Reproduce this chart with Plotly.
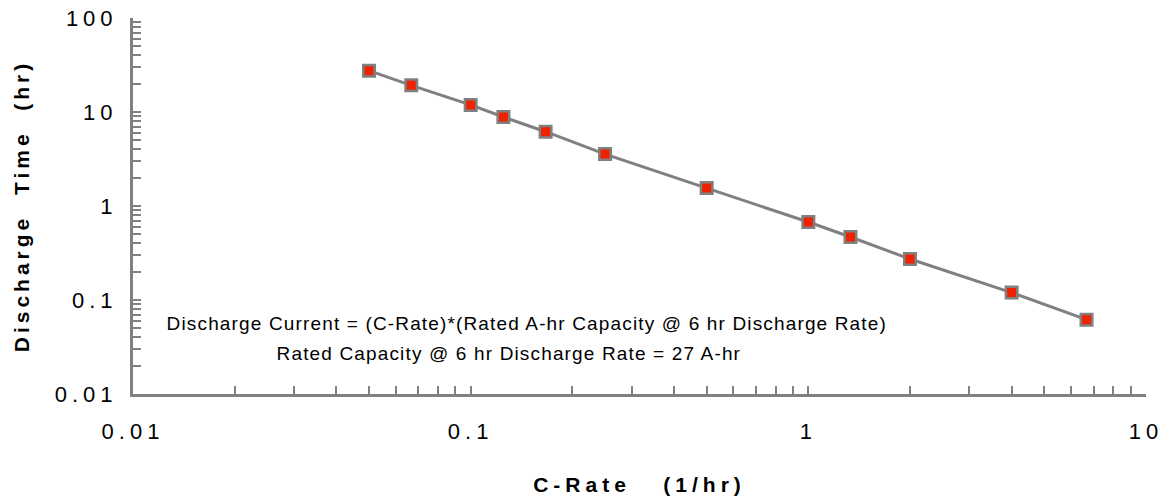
import plotly.graph_objects as go

# Data
c_rate = [0.05, 0.0667, 0.1, 0.125, 0.1667, 0.25, 0.5, 1.0, 1.333, 2.0, 4.0, 6.667]
discharge_time = [27.5, 19.2, 11.9, 8.85, 6.17, 3.57, 1.55, 0.676, 0.468, 0.273, 0.120, 0.0617]

x_tick_vals = [0.01, 0.1, 1, 10]
x_tick_text = ["0.01", "0.1", "1", "10"]
y_tick_vals = [0.01, 0.1, 1, 10, 100]
y_tick_text = ["0.01", "0.1", "1", "10", "100"]

x_title = "C-Rate\u00a0\u00a0\u00a0(1/hr)"
y_title = "Discharge\u00a0\u00a0Time\u00a0\u00a0(hr)"
note_1 = "Discharge Current = (C-Rate)*(Rated A-hr Capacity @ 6 hr Discharge Rate)"
note_2 = "Rated Capacity @ 6 hr Discharge Rate = 27 A-hr"

GRAY = "#808080"
FONT = "Arial, 'Liberation Sans', sans-serif"

fig = go.Figure()
fig.add_trace(go.Scatter(
    x=c_rate, y=discharge_time, mode="lines+markers",
    line=dict(color=GRAY, width=3),
    marker=dict(symbol="square", size=11.5, color="#ee2200",
                line=dict(color=GRAY, width=2.5)),
    showlegend=False,
))

axis_common = dict(
    type="log", showgrid=False, zeroline=False,
    showline=True, linecolor=GRAY, linewidth=3,
    ticks="inside", ticklen=8, tickwidth=2, tickcolor=GRAY,
    tickmode="array",
    minor=dict(ticks="inside", ticklen=8, tickwidth=2, tickcolor=GRAY, dtick="D1", showgrid=False),
    tickfont=dict(family=FONT, size=22, color="#000"),
    mirror=False, automargin=False,
)

fig.update_xaxes(**axis_common, range=[-2, 1], tickvals=x_tick_vals, ticktext=x_tick_text,
                 ticklabelstandoff=16,
                 title=dict(text=x_title, font=dict(family=FONT, size=21, color="#000", weight="bold"),
                            standoff=34))
fig.update_yaxes(**axis_common, range=[-2, 2], tickvals=y_tick_vals, ticktext=y_tick_text,
                 ticklabelstandoff=8,
                 title=dict(text=y_title, font=dict(family=FONT, size=21, color="#000", weight="bold"),
                            standoff=40))

fig.add_annotation(text=note_1, xref="paper", yref="paper", x=0.3894, y=0.1888,
                   xanchor="center", yanchor="middle", showarrow=False,
                   font=dict(family=FONT, size=19, color="#000"), name="note1")
fig.add_annotation(text=note_2, xref="paper", yref="paper", x=0.3712, y=0.1064,
                   xanchor="center", yanchor="middle", showarrow=False,
                   font=dict(family=FONT, size=19, color="#000"), name="note2")

fig.update_layout(
    width=1170, height=503,
    margin=dict(l=133, r=24, t=18, b=109, autoexpand=False),
    paper_bgcolor="white", plot_bgcolor="white",
    font=dict(family=FONT, color="#000"),
)

post_js = """
var s = document.createElement('style');
s.textContent = '.xtick text, .ytick text {letter-spacing:5px;} ' +
                '.xtitle {letter-spacing:5px;} .ytitle {letter-spacing:4px;} ' +
                '.annotation-text {letter-spacing:1.15px;}';
document.head.appendChild(s);
"""

fig.write_html("out.html", post_script=post_js)
